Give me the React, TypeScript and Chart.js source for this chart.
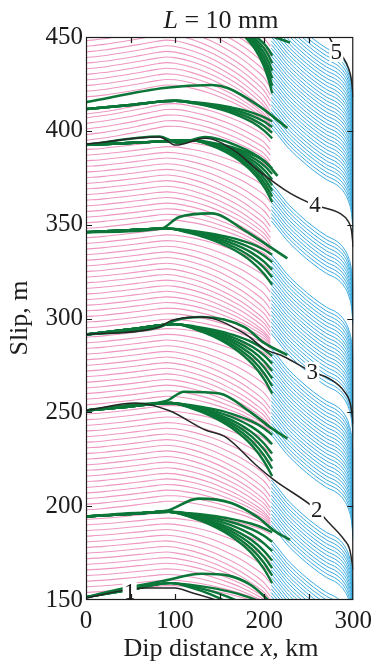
import React, { useEffect, useRef } from "react";
import { Chart, registerables } from "chart.js";

Chart.register(...registerables);

// ---------- axis ----------
const X_MIN = 0, X_MAX = 300, Y_MIN = 150, Y_MAX = 450;
const X_TICKS = [0, 100, 200, 300];
const X_MINOR = [50, 100, 150, 200, 250];
const Y_TICKS = [150, 200, 250, 300, 350, 400, 450];

// ---------- pink (interseismic) profiles ----------
const X_PINK = [0, 20, 40, 60, 80, 90, 100, 120, 140, 160, 175, 190, 200, 207];
const PINK_RISE = [0, 0.15, 0.35, 0.58, 0.82, 0.94, 1, 0.95, 0.85, 0.7, 0.55, 0.38, 0.24, 0];
const PINK_DROP = [0, 0, 0, 0, 0, 0.01, 0.04, 0.12, 0.24, 0.4, 0.54, 0.72, 0.86, 1];

const PINK_LEFT_1 = [154, 157, 160, 163, 166, 169, 172, 175, 178, 181, 184, 187, 190, 193];
const PINK_FRONT_1 = [145, 146, 146, 147, 148, 149, 150, 152, 155, 159, 164, 170, 177, 185];
const PINK_LEFT_2 = [198, 201, 204, 207, 210, 213, 216, 219, 222, 225, 228, 231, 234, 237, 240, 243, 246, 249];
const PINK_FRONT_2 = [188, 189, 190, 191, 192, 193, 195, 197, 199, 202, 205, 209, 213, 218, 223, 228, 233, 239];
const PINK_LEFT_3 = [254, 257, 260, 263, 266, 269, 272, 275, 278, 281, 284, 287, 290];
const PINK_FRONT_3 = [239, 240, 241, 242, 244, 246, 249, 252, 256, 261, 266, 272, 279];
const PINK_LEFT_4 = [295, 298, 301, 304, 307, 310, 313, 316, 319, 322, 325, 328, 331, 334, 337, 340, 343];
const PINK_FRONT_4 = [284, 285, 286, 287, 288, 289, 291, 293, 295, 298, 301, 305, 309, 314, 319, 325, 332];
const PINK_LEFT_5 = [348, 351, 354, 357, 360, 363, 366, 369, 372, 375, 378, 381, 384, 387, 390];
const PINK_FRONT_5 = [334, 335, 336, 337, 339, 341, 343, 346, 349, 353, 357, 362, 367, 373, 380];
const PINK_LEFT_6 = [395, 398, 401, 404, 407, 409];
const PINK_FRONT_6 = [382, 384, 387, 390, 394, 399];
const PINK_LEFT_7 = [418, 421, 424, 427, 430, 433, 436, 439, 442, 445, 448, 451, 454, 457, 460, 463, 466];
const PINK_FRONT_7 = [401, 402, 403, 404, 406, 408, 410, 413, 416, 419, 423, 427, 431, 435, 440, 445, 451];
const PINK_BUMP = [4, 5, 5, 5, 5, 8, 7];

// ---------- blue (deep creep) profiles ----------
const X_BLUE = [208, 215, 225, 240, 255, 270, 282, 290, 295, 298, 300];
const BLUE_SHAPE = [0, -4, -10, -17, -23, -28, -31, -35, -40, -46, -56];
const BLUE_START = [
  130, 132, 134, 136, 138, 140, 142, 144, 146, 148, 150, 152, 154, 156, 158, 160, 162, 164, 166, 168, 170, 172, 174, 176, 178, 180, 182,
  190, 192, 194, 196, 198, 200, 202, 204, 206, 208, 210, 212, 214,
  238, 240, 242, 244, 246, 248, 250, 252, 254, 256, 258, 260, 262, 264, 266, 268, 270, 272, 274, 276, 278, 280, 282, 284,
  292, 294, 296, 298, 300, 302, 304, 306, 308, 310, 312, 314, 316, 318, 320, 322, 324, 326, 328, 330, 332, 334,
  352, 354, 356, 358, 360, 362, 364, 366, 368, 370, 372,
  402, 404, 406, 408, 410, 412, 414, 416, 418, 420, 422, 424, 426, 428, 430, 432, 434, 436, 438, 440, 442, 444, 446, 448, 450, 452, 454, 456, 458, 460, 462, 464, 466, 468, 470, 472,
];

// ---------- green (coseismic) fans ----------
const EVENT_LEFT = [151.5, 194.5, 251, 291.5, 346, 392.5, 411.6, 470];
const EVENT_SPLIT_X = [95, 93, 95, 100, 90, 120, 100, 160];
const EVENT_SPLIT_Y = [159, 197, 255, 297, 348, 395, 416, 456];
const FAN_END_X = 209;
const FAN_F = [0, 0.2, 0.4, 0.6, 0.8, 0.92, 1];
const FAN_G = [0, 0.07, 0.18, 0.34, 0.58, 0.8, 1];
const FAN_ENDS = [
  [145, 135, 125],
  [186, 181, 176, 171, 167, 163, 159],
  [238, 233, 228, 224, 220, 216],
  [280, 276, 272, 268, 264, 260],
  [334, 330, 326, 322, 318],
  [380, 377, 374, 371, 368, 365, 362],
  [405, 402, 399, 396],
  [440, 436, 432, 428, 424, 420],
];
const TOP_GREEN = [
  [[0, 151.5], [40, 156], [85, 160], [130, 164], [160, 163], [185, 158], [200, 152], [212, 146]],
  [[0, 194.5], [40, 196], [90, 197.5], [126, 204], [163, 201.7], [193, 194], [211, 187], [229, 182]],
  [[0, 251], [50, 254], [90, 256], [110, 261], [150, 260], [185, 250], [207, 242], [226, 236]],
  [[0, 291.5], [82, 295.4], [100, 299], [130, 300.8], [178, 295.4], [200, 287], [226, 280.5]],
  [[0, 346], [85, 348], [104, 354], [141, 356], [178, 347], [207, 338], [226, 332]],
  [[0, 392.5], [82, 397], [104, 393.5], [134, 396.7], [170, 392], [200, 384], [215, 376]],
  [[0, 415.3], [90, 423], [141, 424.4], [159, 422.8], [196, 412.6], [226, 401.5]],
  [[150, 462], [200, 452], [229, 447]],
];

// ---------- black (labelled) profiles ----------
const BLACK_1 = [[0, 151], [41, 155], [67, 156.4], [100, 156.4], [118, 154], [152, 149], [170, 145]];
const BLACK_2 = [[0, 251], [56, 255], [93, 251], [134, 240.6], [156, 237], [193, 221], [211, 214], [259, 198], [273, 191], [290, 182], [296, 177], [300, 166]];
const BLACK_3 = [[0, 291.5], [82, 295.4], [96, 299], [130, 300.8], [178, 292], [200, 284], [223, 279.5], [254, 271.5], [273, 268], [290, 261], [297, 254], [300, 244]];
const BLACK_4 = [[0, 393], [82, 396.7], [101, 392.4], [134, 396], [165, 390], [193, 379], [229, 366.8], [257, 360.4], [285, 356], [294, 352], [298, 347], [300, 338]];
const BLACK_5 = [[255, 462], [273, 450], [281, 443], [289, 438.8], [295, 433], [298, 427], [300, 418]];
const LABELS = ["1", "2", "3", "4", "5"];
const LABEL_X = [49, 259, 254, 257, 281];
const LABEL_Y = [154.5, 198, 271.5, 360.4, 442];

const PINK = "#ee98c1";
const BLUE = "#3aaade";
const GREEN = "#0c7638";
const BLACK = "#262626";
const TEXT = "#1c1c1c";
const SERIF = "'Liberation Serif', 'Times New Roman', serif";

function pts(arr: number[][]) {
  return arr.map(([x, y]) => ({ x, y }));
}

function buildDatasets() {
  const ds: any[] = [];
  const lefts = [PINK_LEFT_1, PINK_LEFT_2, PINK_LEFT_3, PINK_LEFT_4, PINK_LEFT_5, PINK_LEFT_6, PINK_LEFT_7];
  const fronts = [PINK_FRONT_1, PINK_FRONT_2, PINK_FRONT_3, PINK_FRONT_4, PINK_FRONT_5, PINK_FRONT_6, PINK_FRONT_7];
  lefts.forEach((arr, c) => {
    arr.forEach((left, i) => {
      const front = fronts[c][i];
      ds.push({
        data: X_PINK.map((x, k) => ({ x, y: left + PINK_BUMP[c] * PINK_RISE[k] + (front - left) * PINK_DROP[k] })),
        borderColor: PINK, borderWidth: 1.1, order: 5,
      });
    });
  });
  BLUE_START.forEach((s) => {
    ds.push({
      data: X_BLUE.map((x, k) => ({ x, y: s + BLUE_SHAPE[k] })),
      borderColor: BLUE, borderWidth: 1, order: 4,
    });
  });
  EVENT_LEFT.forEach((L, e) => {
    const xs = EVENT_SPLIT_X[e], ys = EVENT_SPLIT_Y[e];
    FAN_ENDS[e].forEach((end) => {
      const data = [{ x: 0, y: L }, { x: xs * 0.5, y: L + (ys - L) * 0.5 }].concat(
        FAN_F.map((f, k) => ({ x: xs + (FAN_END_X - xs) * f, y: ys + (end - ys) * FAN_G[k] }))
      );
      ds.push({ data, borderColor: GREEN, borderWidth: 2.4, order: 3 });
    });
    ds.push({ data: pts(TOP_GREEN[e]), borderColor: GREEN, borderWidth: 2.6, order: 3 });
  });
  [BLACK_1, BLACK_2, BLACK_3, BLACK_4, BLACK_5].forEach((b) => {
    ds.push({ data: pts(b), borderColor: BLACK, borderWidth: 1.5, order: 2 });
  });
  return ds;
}

const decor = {
  id: "decor",
  afterDatasetsDraw(chart: any) {
    const { ctx, chartArea: a, scales } = chart;
    const xs = scales.x, ys = scales.y;
    ctx.save();
    // labels on black lines
    ctx.font = `23px ${SERIF}`;
    ctx.textAlign = "center";
    ctx.textBaseline = "middle";
    LABELS.forEach((t, i) => {
      const px = xs.getPixelForValue(LABEL_X[i]);
      const py = ys.getPixelForValue(LABEL_Y[i]);
      ctx.fillStyle = "#ffffff";
      ctx.fillRect(px - 7, py - 10, 14, 20);
      ctx.fillStyle = TEXT;
      ctx.fillText(t, px, py + 1);
    });
    // frame
    ctx.strokeStyle = TEXT;
    ctx.lineWidth = 1.2;
    ctx.strokeRect(a.left + 0.5, a.top + 0.5, a.right - a.left - 1, a.bottom - a.top - 1);
    // inward ticks
    const tl = 6;
    ctx.beginPath();
    X_MINOR.forEach((v) => {
      const px = Math.round(xs.getPixelForValue(v)) + 0.5;
      ctx.moveTo(px, a.bottom); ctx.lineTo(px, a.bottom - tl);
      ctx.moveTo(px, a.top); ctx.lineTo(px, a.top + tl);
    });
    Y_TICKS.slice(1, -1).forEach((v) => {
      const py = Math.round(ys.getPixelForValue(v)) + 0.5;
      ctx.moveTo(a.left, py); ctx.lineTo(a.left + tl, py);
      ctx.moveTo(a.right, py); ctx.lineTo(a.right - tl, py);
    });
    ctx.stroke();
    // titles
    ctx.fillStyle = TEXT;
    ctx.textBaseline = "alphabetic";
    ctx.textAlign = "left";
    const size = 26;
    const it = `italic ${size}px ${SERIF}`;
    const nm = `${size}px ${SERIF}`;
    const drawRich = (parts: [string, string][], cx: number, by: number) => {
      let w = 0;
      parts.forEach(([s, f]) => { ctx.font = f; w += ctx.measureText(s).width; });
      let x = cx - w / 2;
      parts.forEach(([s, f]) => { ctx.font = f; ctx.fillText(s, x, by); x += ctx.measureText(s).width; });
    };
    drawRich([["L", it], [" = 10 mm", nm]], 221, 28);
    drawRich([["Dip distance ", nm], ["x", it], [", km", nm]], 221, 656);
    ctx.save();
    ctx.translate(27, 318);
    ctx.rotate(-Math.PI / 2);
    drawRich([["Slip, m", nm]], 0, 0);
    ctx.restore();
    ctx.restore();
  },
};

export default function App() {
  const ref = useRef<HTMLCanvasElement>(null);
  useEffect(() => {
    document.body.style.margin = "0";
    const canvas = ref.current;
    if (!canvas) return;
    const chart = new Chart(canvas, {
      type: "line",
      data: { datasets: buildDatasets() },
      options: {
        animation: false,
        responsive: false,
        devicePixelRatio: 1,
        layout: { padding: { left: 0, right: 21, top: 37, bottom: 0 } },
        plugins: { legend: { display: false }, tooltip: { enabled: false }, title: { display: false } },
        elements: {
          point: { radius: 0 },
          line: { tension: 0.4, cubicInterpolationMode: "monotone", fill: false },
        },
        scales: {
          x: {
            type: "linear", min: X_MIN, max: X_MAX,
            afterBuildTicks: (s: any) => { s.ticks = X_TICKS.map((v) => ({ value: v })); },
            afterFit: (s: any) => { s.height = 67; },
            grid: { display: false, drawTicks: false },
            border: { display: false },
            ticks: { color: TEXT, font: { family: SERIF, size: 25 }, padding: 6, maxRotation: 0 },
          },
          y: {
            type: "linear", min: Y_MIN, max: Y_MAX,
            afterBuildTicks: (s: any) => { s.ticks = Y_TICKS.map((v) => ({ value: v })); },
            afterFit: (s: any) => { s.width = 86; },
            grid: { display: false, drawTicks: false },
            border: { display: false },
            ticks: { color: TEXT, font: { family: SERIF, size: 25 }, padding: 3 },
          },
        },
      } as any,
      plugins: [decor],
    });
    return () => chart.destroy();
  }, []);
  return <canvas ref={ref} width={378} height={667} style={{ display: "block" }} />;
}
